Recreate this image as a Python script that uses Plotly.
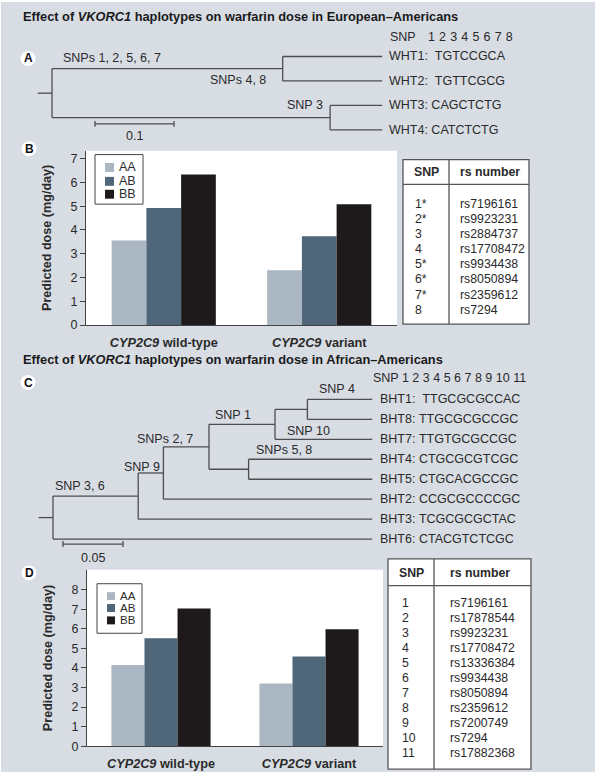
import plotly.graph_objects as go

W, H = 600, 781
FONT = "Liberation Sans, Arial, Helvetica, sans-serif"
TXT = "#2a2a2a"
LINE = "#4d4d4d"
BG = "#d8dde4"

# ---------------- data ----------------
genotypes = ["AA", "AB", "BB"]
genotype_colors = ["#aab7c3", "#506679", "#1e1a1b"]
cyp_groups = ["CYP2C9 wild-type", "CYP2C9 variant"]
cyp_ticktext = ["<b><i>CYP2C9</i> wild-type</b>", "<b><i>CYP2C9</i> variant</b>"]

# Panel B: European-Americans, predicted dose (mg/day)
dose_eu_AA = [3.55, 2.30]
dose_eu_AB = [4.92, 3.73]
dose_eu_BB = [6.33, 5.08]
# Panel D: African-Americans
dose_af_AA = [4.15, 3.20]
dose_af_AB = [5.52, 4.58]
dose_af_BB = [7.03, 5.98]

# Panel A tree (VKORC1 haplotypes, European-Americans)
wht_names = ["WHT1", "WHT2", "WHT3", "WHT4"]
wht_seqs = ["TGTCCGCA", "TGTTCGCG", "CAGCTCTG", "CATCTCTG"]
wht_gap = [2, 2, 1, 1]
treeA_nodes = [("a1", ["WHT1", "WHT2"], 0.292),
               ("a2", ["WHT3", "WHT4"], 0.352),
               ("root", ["a1", "a2"], 0.0)]
treeA_tip = 0.418
treeA_stub = 0.018
treeA_scale = 0.1
treeA_labels = ["SNPs 1, 2, 5, 6, 7", "SNPs 4, 8", "SNP 3"]
treeA_snps = [1, 2, 3, 4, 5, 6, 7, 8]

# Panel C tree (VKORC1 haplotypes, African-Americans)
bht_names = ["BHT1", "BHT8", "BHT7", "BHT4", "BHT5", "BHT2", "BHT3", "BHT6"]
bht_seqs = ["TTGCGCGCCAC", "TTGCGCGCCGC", "TTGTGCGCCGC", "CTGCGCGTCGC",
            "CTGCACGCCGC", "CCGCGCCCCGC", "TCGCGCGCTAC", "CTACGTCTCGC"]
bht_gap = [2, 1, 1, 1, 1, 1, 1, 1]
treeC_nodes = [("c4", ["BHT1", "BHT8"], 0.212),
               ("c10", ["c4", "BHT7"], 0.185),
               ("c58", ["BHT4", "BHT5"], 0.163),
               ("c1", ["c10", "c58"], 0.130),
               ("c27", ["c1", "BHT2"], 0.092),
               ("c9", ["c27", "BHT3"], 0.071),
               ("root", ["c9", "BHT6"], 0.0)]
treeC_tip = 0.266
treeC_stub = 0.012
treeC_scale = 0.05
treeC_labels = ["SNP 3, 6", "SNP 9", "SNPs 2, 7", "SNP 1", "SNPs 5, 8", "SNP 10", "SNP 4"]
treeC_snps = [1, 2, 3, 4, 5, 6, 7, 8, 9, 10, 11]

# SNP tables
snp_eu = ["1*", "2*", "3", "4", "5*", "6*", "7*", "8"]
rs_eu = ["rs7196161", "rs9923231", "rs2884737", "rs17708472",
         "rs9934438", "rs8050894", "rs2359612", "rs7294"]
snp_af = ["1", "2", "3", "4", "5", "6", "7", "8", "9", "10", "11"]
rs_af = ["rs7196161", "rs17878544", "rs9923231", "rs17708472", "rs13336384",
         "rs9934438", "rs8050894", "rs2359612", "rs7200749", "rs7294", "rs17882368"]


# ---------------- helpers ----------------
def px(x):
    return x / W


def py(y):
    return 1 - y / H


def tree_coords(leaves, nodes, tip, stub):
    pos = {n: (tip, i) for i, n in enumerate(leaves)}
    for name, kids, d in nodes:
        ys = [pos[k][1] for k in kids]
        pos[name] = (d, (min(ys) + max(ys)) / 2)
    xs, ys = [], []
    for name, kids, d in nodes:
        yk = [pos[k][1] for k in kids]
        xs += [d, d, None]
        ys += [min(yk), max(yk), None]
        for k in kids:
            xs += [d, pos[k][0], None]
            ys += [pos[k][1], pos[k][1], None]
    rx, ry = pos["root"]
    xs += [rx - stub, rx, None]
    ys += [ry, ry, None]
    return pos, xs, ys


fig = go.Figure()
shapes = []
annotations = []

# gray background panel
shapes.append(dict(type="rect", xref="paper", yref="paper", x0=px(1), x1=px(595),
                   y0=py(779), y1=py(2), fillcolor=BG, line=dict(width=0), layer="below"))

# ---------------- bar charts ----------------
for ax, series in (("", [dose_eu_AA, dose_eu_AB, dose_eu_BB]),
                   ("2", [dose_af_AA, dose_af_AB, dose_af_BB])):
    for g, col, vals in zip(genotypes, genotype_colors, series):
        fig.add_trace(go.Bar(x=cyp_groups, y=vals, name=g, showlegend=False,
                             marker=dict(color=col, line=dict(width=0)),
                             xaxis="x" + ax, yaxis="y" + ax, hoverinfo="skip"))
    shapes.append(dict(type="rect", xref=f"x{ax} domain", yref=f"y{ax} domain",
                       x0=0, x1=1, y0=0, y1=1, fillcolor="white",
                       line=dict(width=0), layer="below"))

yaxis_common = dict(showgrid=False, zeroline=False, showline=True, linecolor="#444",
                    linewidth=1, ticks="outside", ticklen=5, tickcolor="#444",
                    tickfont=dict(family=FONT, size=12.5, color=TXT),
                    title=dict(text="<b>Predicted dose (mg/day)</b>", standoff=16,
                               font=dict(family=FONT, size=12.6, color=TXT)))
xaxis_common = dict(showgrid=False, zeroline=False, showline=True, linecolor="#444",
                    linewidth=1, ticks="", tickvals=cyp_groups, ticktext=cyp_ticktext,
                    tickfont=dict(family=FONT, size=12.7, color=TXT))

# ---------------- trees ----------------
posA, xA, yA = tree_coords(wht_names, treeA_nodes, treeA_tip, treeA_stub)
posC, xC, yC = tree_coords(bht_names, treeC_nodes, treeC_tip, treeC_stub)

# tree A mapping: px = 52 + d*790 ; py = 57 + i*24.67
A_x0, A_k, A_y0, A_s = 52, 790, 57, 24.67
C_x0, C_k, C_y0, C_s = 53, 1200, 403, 20.14

# scale bars
sbA_x = (95 - A_x0) / A_k
sbA_y = (125 - A_y0) / A_s
tA = 3 / A_s
xA += [sbA_x, sbA_x + treeA_scale, None, sbA_x, sbA_x, None,
       sbA_x + treeA_scale, sbA_x + treeA_scale, None]
yA += [sbA_y, sbA_y, None, sbA_y - tA, sbA_y + tA, None, sbA_y - tA, sbA_y + tA, None]
sbC_x = (63 - C_x0) / C_k
sbC_y = (549 - C_y0) / C_s
tC = 3 / C_s
xC += [sbC_x, sbC_x + treeC_scale, None, sbC_x, sbC_x, None,
       sbC_x + treeC_scale, sbC_x + treeC_scale, None]
yC += [sbC_y, sbC_y, None, sbC_y - tC, sbC_y + tC, None, sbC_y - tC, sbC_y + tC, None]

fig.add_trace(go.Scatter(x=xA, y=yA, mode="lines", line=dict(color=LINE, width=1.3),
                         xaxis="x3", yaxis="y3", showlegend=False, hoverinfo="skip"))
fig.add_trace(go.Scatter(x=xC, y=yC, mode="lines", line=dict(color=LINE, width=1.3),
                         xaxis="x4", yaxis="y4", showlegend=False, hoverinfo="skip"))

TF = dict(family=FONT, size=12.5, color=TXT)


def tlabel(ax, x, y, text, xs, ys, xanchor="left"):
    annotations.append(dict(xref="x" + ax, yref="y" + ax, x=x, y=y, text=text,
                            xshift=xs, yshift=ys, xanchor=xanchor, yanchor="middle",
                            showarrow=False, font=TF))


# tree A labels
tlabel("3", posA["root"][0], posA["a1"][1], treeA_labels[0], 9, 11)
tlabel("3", posA["a1"][0], posA["a1"][1], treeA_labels[1], -15, -11, "right")
tlabel("3", posA["a2"][0], posA["WHT3"][1], treeA_labels[2], -5, 0, "right")
for n, s, g in zip(wht_names, wht_seqs, wht_gap):
    tlabel("3", posA[n][0], posA[n][1], n + ":" + "\u00a0" * g + s, 5, 0)
tlabel("3", treeA_tip, 0, "SNP", 6, 19)
tlabel("3", treeA_tip, 0, "\u2004".join(str(i) for i in treeA_snps), 44, 19)
tlabel("3", sbA_x + treeA_scale / 2, sbA_y, str(treeA_scale), 0, -12, "center")

# tree C labels
tlabel("4", posC["root"][0], posC["c9"][1], treeC_labels[0], 0, 10)
tlabel("4", posC["c9"][0], posC["c27"][1], treeC_labels[1], -16, 6)
tlabel("4", posC["c27"][0], posC["c1"][1], treeC_labels[2], -28, 8)
tlabel("4", posC["c1"][0], posC["c10"][1], treeC_labels[3], 4, 9)
tlabel("4", posC["c58"][0], posC["BHT4"][1], treeC_labels[4], 5, 9)
tlabel("4", posC["c10"][0], posC["BHT7"][1], treeC_labels[5], 10, 8)
tlabel("4", posC["c4"][0], posC["BHT1"][1], treeC_labels[6], 10, 10)
for n, s, g in zip(bht_names, bht_seqs, bht_gap):
    tlabel("4", posC[n][0], posC[n][1], n + ":" + "\u00a0" * g + s, 6, 0)
tlabel("4", treeC_tip, 0, "SNP " + " ".join(str(i) for i in treeC_snps), -1, 21)
tlabel("4", sbC_x + treeC_scale / 2, sbC_y, str(treeC_scale), 0, -14, "center")

# ---------------- manual legends ----------------
for (bx0, by0, bx1, by1, sw0, sw1, tx, ys, fs) in (
        (95, 156, 143, 206, 105, 114, 117, [169, 183, 196], 12.5),
        (97, 589, 142, 639, 107, 115, 118, [601.5, 613.5, 626], 11.5)):
    shapes.append(dict(type="rect", xref="paper", yref="paper", x0=px(bx0), x1=px(bx1),
                       y0=py(by1), y1=py(by0), fillcolor="white",
                       line=dict(color="#444", width=1)))
    for g, col, yy in zip(genotypes, genotype_colors, ys):
        h = (sw1 - sw0) / 2
        shapes.append(dict(type="rect", xref="paper", yref="paper", x0=px(sw0), x1=px(sw1),
                           y0=py(yy + h), y1=py(yy - h), fillcolor=col, line=dict(width=0)))
        annotations.append(dict(xref="paper", yref="paper", x=px(tx), y=py(yy), text=g,
                                xanchor="left", yanchor="middle", showarrow=False,
                                font=dict(family=FONT, size=fs, color=TXT)))

# ---------------- tables ----------------
TBF = dict(family=FONT, size=12.3, color=TXT)
for ax, (L, T, R, B, div, hline, snp_x, rs_x, snp, rs) in (
        ("5", (403, 161, 529, 327, 449, 186, 413, 458, snp_eu, rs_eu)),
        ("6", (388, 564, 531, 776, 434, 591, 400, 448, snp_af, rs_af))):
    shapes.append(dict(type="rect", xref="paper", yref="paper", x0=px(L), x1=px(R),
                       y0=py(B), y1=py(T), fillcolor="white", line=dict(color="#555", width=1.3)))
    shapes.append(dict(type="line", xref="paper", yref="paper", x0=px(L), x1=px(R),
                       y0=py(hline), y1=py(hline), line=dict(color="#555", width=1.3)))
    shapes.append(dict(type="line", xref="paper", yref="paper", x0=px(div), x1=px(div),
                       y0=py(B), y1=py(T), line=dict(color="#555", width=1.3)))
    annotations.append(dict(xref="paper", yref="paper", x=px((L + div) / 2), y=py((T + hline) / 2 + 0.5),
                            text="<b>SNP</b>", xanchor="center", yanchor="middle",
                            showarrow=False, font=TBF))
    annotations.append(dict(xref="paper", yref="paper", x=px(rs_x), y=py((T + hline) / 2 + 0.5),
                            text="<b>rs number</b>", xanchor="left", yanchor="middle",
                            showarrow=False, font=TBF))
    for i, (s, r) in enumerate(zip(snp, rs)):
        annotations.append(dict(xref="paper", yref="y" + ax, x=px(snp_x), y=i, text=s,
                                xanchor="left", yanchor="middle", showarrow=False, font=TBF))
        annotations.append(dict(xref="paper", yref="y" + ax, x=px(rs_x), y=i, text=r,
                                xanchor="left", yanchor="middle", showarrow=False, font=TBF))

# ---------------- titles and panel letters ----------------
for txt, yy in (("Effect of <i>VKORC1</i> haplotypes on warfarin dose in European\u2013Americans", 17),
                ("Effect of <i>VKORC1</i> haplotypes on warfarin dose in African\u2013Americans", 363)):
    annotations.append(dict(xref="paper", yref="paper", x=px(21), y=py(yy), text="<b>" + txt + "</b>",
                            xanchor="left", yanchor="middle", showarrow=False,
                            font=dict(family=FONT, size=12.8, color="#1a1a1a")))
for letter, cx, cy in (("A", 28, 59), ("B", 29, 150), ("C", 28, 386), ("D", 29, 578)):
    r = 7.5
    shapes.append(dict(type="circle", xref="paper", yref="paper", x0=px(cx - r), x1=px(cx + r),
                       y0=py(cy + r), y1=py(cy - r), fillcolor="white", line=dict(width=0)))
    annotations.append(dict(xref="paper", yref="paper", x=px(cx), y=py(cy), text="<b>" + letter + "</b>",
                            xanchor="center", yanchor="middle", showarrow=False,
                            font=dict(family=FONT, size=12, color="#111")))

hidden = dict(visible=False, showgrid=False, zeroline=False, fixedrange=True)

fig.update_layout(
    width=W, height=H, margin=dict(l=0, r=0, t=0, b=0),
    paper_bgcolor="white", plot_bgcolor="rgba(0,0,0,0)",
    barmode="group", bargap=0.33, bargroupgap=0,
    font=dict(family=FONT, color=TXT),
    showlegend=False, hovermode=False,
    xaxis=dict(domain=[px(86), px(397)], anchor="y", ticklabelstandoff=6, **xaxis_common),
    yaxis=dict(domain=[py(328), py(152)], anchor="x", range=[0, 7.333],
               tickvals=list(range(0, 8)), **yaxis_common),
    xaxis2=dict(domain=[px(87), px(383)], anchor="y2", ticklabelstandoff=6, **xaxis_common),
    yaxis2=dict(domain=[py(753), py(575)], anchor="x2", range=[0, 9.01],
                tickvals=list(range(0, 9)), **yaxis_common),
    xaxis3=dict(domain=[0, 1], anchor="y3", range=[-A_x0 / A_k, (W - A_x0) / A_k], **hidden),
    yaxis3=dict(domain=[0, 1], anchor="x3", range=[(H - A_y0) / A_s, -A_y0 / A_s], **hidden),
    xaxis4=dict(domain=[0, 1], anchor="y4", range=[-C_x0 / C_k, (W - C_x0) / C_k], **hidden),
    yaxis4=dict(domain=[0, 1], anchor="x4", range=[(H - C_y0) / C_s, -C_y0 / C_s], **hidden),
    xaxis5=dict(domain=[px(403), px(529)], anchor="y5", range=[0, 1], **hidden),
    yaxis5=dict(domain=[py(327), py(161)], anchor="x5",
                range=[(327 - 206) / 15.2, (161 - 206) / 15.2], **hidden),
    xaxis6=dict(domain=[px(388), px(531)], anchor="y6", range=[0, 1], **hidden),
    yaxis6=dict(domain=[py(776), py(564)], anchor="x6",
                range=[(776 - 608) / 15.2, (564 - 608) / 15.2], **hidden),
    shapes=shapes, annotations=annotations,
)

fig.write_html("out.html", config={"displayModeBar": False, "staticPlot": True},
               post_script="document.body.style.margin='0';")
